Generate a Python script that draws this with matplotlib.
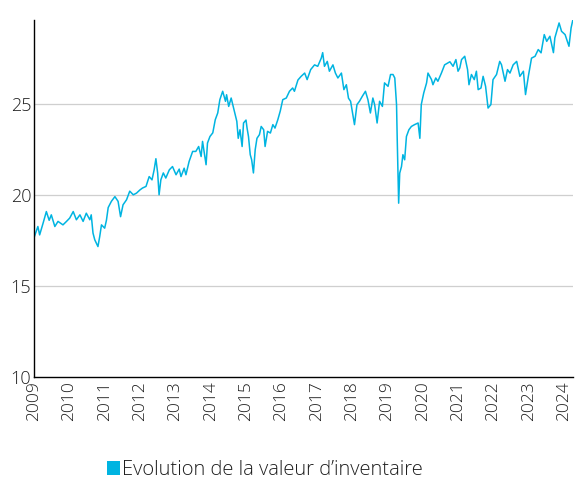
import matplotlib
matplotlib.use("Agg")
import matplotlib.pyplot as plt
from matplotlib.patches import Patch

plt.rcParams['font.family'] = ['Open Sans', 'DejaVu Sans']
plt.rcParams['font.weight'] = 'light'

years = [
    2009.00, 2009.11, 2009.16, 2009.26, 2009.35, 2009.43, 2009.49, 2009.59, 2009.68, 2009.82,
    2009.92, 2010.01, 2010.11, 2010.20, 2010.30, 2010.39, 2010.48, 2010.58, 2010.62, 2010.67,
    2010.72, 2010.81, 2010.86, 2010.91, 2011.00, 2011.05, 2011.10, 2011.19, 2011.29, 2011.38,
    2011.45, 2011.52, 2011.62, 2011.71, 2011.81, 2011.90, 2012.00, 2012.07, 2012.17, 2012.26,
    2012.34, 2012.40, 2012.45, 2012.50, 2012.54, 2012.59, 2012.66, 2012.73, 2012.83, 2012.92,
    2013.02, 2013.11, 2013.16, 2013.25, 2013.30, 2013.39, 2013.49, 2013.58, 2013.66, 2013.73,
    2013.77, 2013.87, 2013.91, 2013.98, 2014.06, 2014.13, 2014.20, 2014.26, 2014.34, 2014.42,
    2014.45, 2014.51, 2014.58, 2014.67, 2014.74, 2014.78, 2014.83, 2014.89, 2014.93, 2015.00,
    2015.03, 2015.07, 2015.12, 2015.16, 2015.21, 2015.26, 2015.31, 2015.38, 2015.43, 2015.50,
    2015.54, 2015.61, 2015.69, 2015.76, 2015.82, 2015.90, 2015.97, 2016.04, 2016.14, 2016.23,
    2016.32, 2016.37, 2016.47, 2016.56, 2016.66, 2016.73, 2016.83, 2016.94, 2017.03, 2017.13,
    2017.17, 2017.22, 2017.30, 2017.36, 2017.46, 2017.53, 2017.60, 2017.70, 2017.77, 2017.84,
    2017.90, 2017.96, 2018.00, 2018.05, 2018.07, 2018.14, 2018.21, 2018.29, 2018.38, 2018.45,
    2018.52, 2018.59, 2018.64, 2018.71, 2018.78, 2018.86, 2018.92, 2019.02, 2019.09, 2019.16,
    2019.21, 2019.26, 2019.28, 2019.32, 2019.35, 2019.40, 2019.44, 2019.49, 2019.54, 2019.61,
    2019.68, 2019.77, 2019.87, 2019.92, 2019.96, 2020.03, 2020.11, 2020.15, 2020.25, 2020.29,
    2020.37, 2020.43, 2020.53, 2020.62, 2020.72, 2020.77, 2020.86, 2020.94, 2021.00, 2021.05,
    2021.10, 2021.19, 2021.27, 2021.31, 2021.38, 2021.46, 2021.52, 2021.57, 2021.65, 2021.71,
    2021.78, 2021.85, 2021.93, 2021.99, 2022.09, 2022.18, 2022.23, 2022.33, 2022.40, 2022.47,
    2022.56, 2022.66, 2022.75, 2022.85, 2022.91, 2022.99, 2023.08, 2023.18, 2023.27, 2023.35,
    2023.44, 2023.51, 2023.60, 2023.70, 2023.74, 2023.86, 2023.93, 2024.03, 2024.14, 2024.20,
    2024.25,
]

values = [
    17.64, 18.26, 17.80, 18.46, 19.08, 18.60, 18.90, 18.26, 18.54, 18.35,
    18.54, 18.72, 19.08, 18.63, 18.90, 18.54, 18.99, 18.63, 18.90, 17.90,
    17.53, 17.16, 17.71, 18.35, 18.17, 18.60, 19.30, 19.64, 19.90, 19.64,
    18.80, 19.45, 19.73, 20.20, 20.00, 20.09, 20.27, 20.37, 20.46, 21.00,
    20.82, 21.37, 21.98, 21.19, 20.00, 20.82, 21.20, 20.92, 21.37, 21.55,
    21.10, 21.41, 21.00, 21.46, 21.10, 21.83, 22.38, 22.38, 22.65, 22.10,
    22.93, 21.65, 22.84, 23.20, 23.40, 24.12, 24.49, 25.22, 25.68, 25.13,
    25.49, 24.85, 25.31, 24.58, 24.03, 23.10, 23.57, 22.65, 23.94, 24.10,
    23.66, 23.20, 22.20, 21.92, 21.20, 22.47, 23.10, 23.30, 23.75, 23.57,
    22.65, 23.48, 23.39, 23.85, 23.66, 24.12, 24.60, 25.22, 25.31, 25.68,
    25.86, 25.68, 26.30, 26.50, 26.68, 26.32, 26.87, 27.13, 27.05, 27.50,
    27.80, 27.05, 27.32, 26.78, 27.13, 26.68, 26.41, 26.68, 25.77, 26.04,
    25.30, 25.13, 24.67, 24.12, 23.85, 24.95, 25.13, 25.40, 25.68, 25.22,
    24.49, 25.31, 24.95, 23.94, 25.13, 24.85, 26.14, 25.95, 26.60, 26.60,
    26.41, 24.95, 23.00, 19.54, 21.19, 21.55, 22.20, 21.92, 23.20, 23.57,
    23.75, 23.85, 23.94, 23.10, 24.95, 25.59, 26.14, 26.68, 26.32, 26.04,
    26.41, 26.23, 26.68, 27.13, 27.24, 27.30, 27.05, 27.42, 26.78, 26.96,
    27.42, 27.60, 26.87, 26.04, 26.60, 26.32, 26.78, 25.77, 25.86, 26.50,
    25.95, 24.76, 24.95, 26.32, 26.60, 27.32, 27.14, 26.23, 26.87, 26.68,
    27.13, 27.32, 26.50, 26.78, 25.50, 26.50, 27.50, 27.60, 27.97, 27.79,
    28.79, 28.42, 28.70, 27.80, 28.61, 29.43, 28.97, 28.79, 28.15, 29.16,
    29.60,
]

tick_years = list(range(2009, 2025))
y_ticks = [10, 15, 20, 25]
legend_label = "Evolution de la valeur d’inventaire"
line_color = "#00B4E1"
text_color = "#1f1f1f"

fig = plt.figure(figsize=(5.81, 4.84), dpi=100)
ax = fig.add_axes([0.0585, 0.221, 0.9275, 0.738])

ax.plot(years, values, color=line_color, linewidth=1.1)

ax.set_xlim(2009, 2024.25)
ax.set_ylim(10, 29.6)
ax.set_yticks(y_ticks)
ax.set_yticklabels([str(v) for v in y_ticks], fontsize=13, color=text_color)
ax.set_xticks(tick_years)
ax.set_xticklabels([str(y) for y in tick_years], rotation=90, fontsize=12.5, color=text_color)
ax.tick_params(axis='both', length=0, pad=2)
ax.tick_params(axis='x', pad=3)

for v in [15, 20, 25]:
    ax.axhline(v, color="#cfcfcf", linewidth=0.9, zorder=0)

ax.spines['top'].set_visible(False)
ax.spines['right'].set_visible(False)
ax.spines['left'].set_color('black')
ax.spines['bottom'].set_color('black')
ax.spines['left'].set_linewidth(1.0)
ax.spines['bottom'].set_linewidth(1.0)

handle = Patch(facecolor=line_color, edgecolor='none')
fig.legend([handle], [legend_label], loc='center', bbox_to_anchor=(0.456, 0.029),
           frameon=False, fontsize=14.5, handlelength=0.65, handleheight=0.65,
           handletextpad=0.1, labelcolor=text_color)

fig.savefig("out.png", dpi=100)
